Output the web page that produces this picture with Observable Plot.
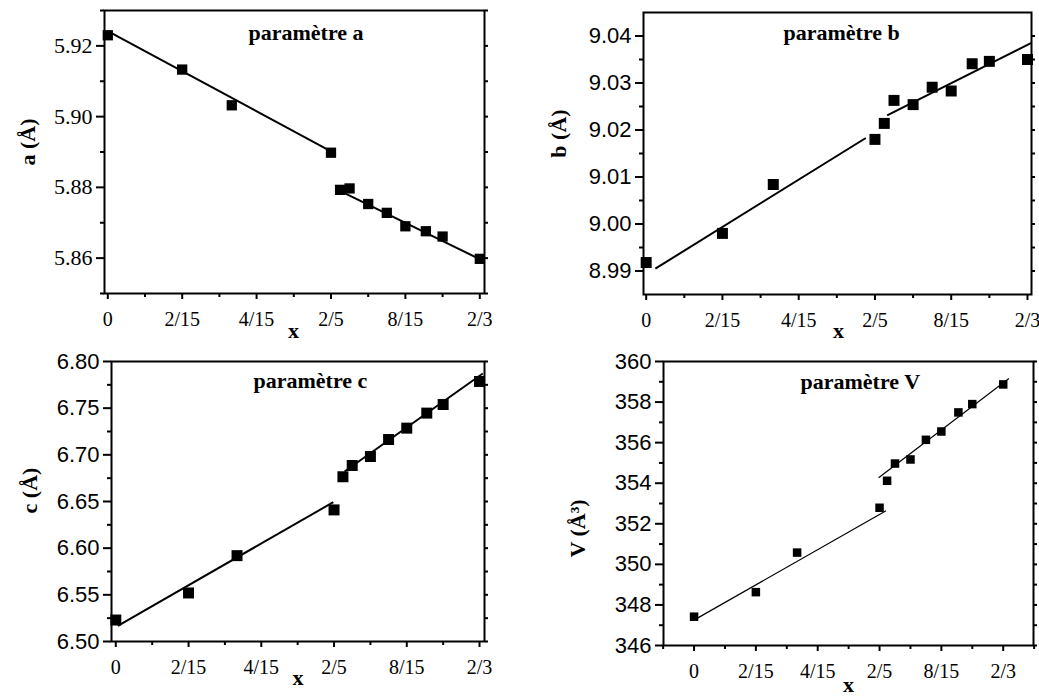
<!DOCTYPE html>
<html><head><meta charset="utf-8">
<script src="https://cdn.jsdelivr.net/npm/d3@7"></script>
<script src="https://cdn.jsdelivr.net/npm/@observablehq/plot@0.6"></script>
<style>
body{margin:0;background:#fff;}
#wrap{position:relative;width:1039px;height:696px;background:#fff;}
#wrap > div{position:absolute;}
</style></head><body>
<div id="wrap"><div id="pa"></div><div id="pb"></div><div id="pc"></div><div id="pd"></div></div>
<script>
// composition x
const xValues = [0, 0.1333, 0.2222, 0.4, 0.4163, 0.4333, 0.4667, 0.5, 0.5333, 0.57, 0.6, 0.6667];
// lattice parameters
const aValues = [5.9230, 5.9133, 5.9032, 5.8898, 5.8793, 5.8797, 5.8753, 5.8728, 5.8690, 5.8676, 5.8661, 5.8598];
const bValues = [8.9918, 8.9980, 9.0084, 9.0180, 9.0214, 9.0263, 9.0254, 9.0291, 9.0283, 9.0341, 9.0346, 9.0350];
const cValues = [6.523, 6.552, 6.592, 6.641, 6.6765, 6.6886, 6.6982, 6.7164, 6.7286, 6.7447, 6.7539, 6.7786];
const vValues = [347.42, 348.63, 350.58, 352.79, 354.12, 354.97, 355.17, 356.14, 356.55, 357.49, 357.90, 358.87];
// linear fit segments [x1, y1, x2, y2]
const aFit = [[0, 5.9242, 0.4, 5.8902], [0.416, 5.8790, 0.668, 5.8596]];
const bFit = [[0.016, 8.9905, 0.384, 9.0183], [0.4213, 9.0231, 0.6727, 9.0385]];
const cFit = [[0.0037, 6.5168, 0.3987, 6.6493], [0.4193, 6.6821, 0.6727, 6.7871]];
const vFit = [[0.0073, 347.35, 0.414, 352.64], [0.398, 354.27, 0.679, 359.16]];
// x ticks
const xMajor = [0, 2/15, 4/15, 6/15, 8/15, 10/15];
const xTickLabels = ["0", "2/15", "4/15", "2/5", "8/15", "2/3"];
const xMinor = [1/15, 3/15, 5/15, 7/15, 9/15];
const xMinorV = [-1/15, 1/15, 3/15, 5/15, 7/15, 9/15, 11/15];
// y ticks
const aMajor = [5.86, 5.88, 5.90, 5.92];
const aTickLabels = ["5.86", "5.88", "5.90", "5.92"];
const aMinor = [5.85, 5.87, 5.89, 5.91, 5.93];
const bMajor = [8.99, 9.00, 9.01, 9.02, 9.03, 9.04];
const bTickLabels = ["8.99", "9.00", "9.01", "9.02", "9.03", "9.04"];
const bMinor = [8.995, 9.005, 9.015, 9.025, 9.035];
const cMajor = [6.50, 6.55, 6.60, 6.65, 6.70, 6.75, 6.80];
const cTickLabels = ["6.50", "6.55", "6.60", "6.65", "6.70", "6.75", "6.80"];
const cMinor = [6.525, 6.575, 6.625, 6.675, 6.725, 6.775];
const vMajor = [346, 348, 350, 352, 354, 356, 358, 360];
const vTickLabels = ["346", "348", "350", "352", "354", "356", "358", "360"];
const vMinor = [347, 349, 351, 353, 355, 357, 359];

const SERIF = "'Liberation Serif', 'Times New Roman', serif";
const SANS = "'Liberation Sans', Arial, sans-serif";

function panel(cfg) {
  const el = document.getElementById(cfg.id);
  el.style.left = cfg.left + "px";
  el.style.top = cfg.top + "px";
  const pts = cfg.ys.map((y, i) => ({x: xValues[i], y}));
  const chart = Plot.plot({
    width: cfg.width, height: cfg.height,
    marginLeft: cfg.m[0], marginRight: cfg.m[1], marginTop: cfg.m[2], marginBottom: cfg.m[3],
    x: {domain: cfg.xDomain},
    y: {domain: cfg.yDomain},
    style: {fontFamily: SERIF, color: "black", background: "transparent", overflow: "visible"},
    marks: [
      Plot.axisY({ticks: cfg.yMajor, tickFormat: d => cfg.yLabels[cfg.yMajor.indexOf(d)], tickSize: 8, tickPadding: 4,
        fontSize: cfg.ySize, fontFamily: cfg.yFont, strokeWidth: 2, label: null}),
      Plot.axisY({ticks: cfg.yMinor, tickFormat: () => "", tickSize: 4, strokeWidth: 2, label: null}),
      Plot.axisY({anchor: "right", ticks: cfg.yMajor.concat(cfg.yMinor), tickFormat: () => "", tickSize: 3, strokeWidth: 2, label: null}),
      Plot.axisX({ticks: xMajor, tickFormat: d => xTickLabels[xMajor.indexOf(d)], tickSize: 6, tickPadding: 12,
        fontSize: 20, fontFamily: SERIF, strokeWidth: 2, label: null}),
      Plot.axisX({ticks: cfg.xMinor, tickFormat: () => "", tickSize: 4, strokeWidth: 2, label: null}),
      Plot.frame({stroke: "black", strokeWidth: 2}),
      Plot.link(cfg.fit, {x1: d => d[0], y1: d => d[1], x2: d => d[2], y2: d => d[3], stroke: "black", strokeWidth: cfg.lw}),
      Plot.dot(pts, {x: "x", y: "y", symbol: "square", r: cfg.r, fill: "black", stroke: null}),
      Plot.text([cfg.title], {text: d => d, frameAnchor: "top-left", textAnchor: "start", lineAnchor: "top",
        dx: cfg.titleD[0], dy: cfg.titleD[1], fontWeight: "bold", fontSize: 22, fontFamily: SERIF}),
      Plot.text([cfg.yLabel], {text: d => d, frameAnchor: "left", rotate: -90, textAnchor: "middle", lineAnchor: "middle",
        dx: cfg.yLabelD[0], dy: cfg.yLabelD[1], fontWeight: "bold", fontSize: 22, fontFamily: SERIF}),
      Plot.text(["x"], {text: d => d, frameAnchor: "bottom", textAnchor: "middle", lineAnchor: "middle",
        dx: cfg.xLabelD[0], dy: cfg.xLabelD[1], fontWeight: "bold", fontSize: 22, fontFamily: SERIF})
    ]
  });
  el.appendChild(chart);
}

panel({id: "pa", left: 0, top: 0, width: 520, height: 340, m: [104, 36, 10, 47],
  xDomain: [-0.0059, 0.6751], yDomain: [5.85, 5.93], ys: aValues, fit: aFit,
  yMajor: aMajor, yLabels: aTickLabels, yMinor: aMinor, yFont: SERIF, ySize: 22, xMinor: xMinor,
  title: "paramètre a", titleD: [144, 14], yLabel: "a (Å)", yLabelD: [-77, -10], xLabelD: [-1, 37], r: 5.8, lw: 2});
panel({id: "pb", left: 520, top: 0, width: 519, height: 340, m: [123, 8, 12, 46],
  xDomain: [-0.0047, 0.6737], yDomain: [8.985, 9.045], ys: bValues, fit: bFit,
  yMajor: bMajor, yLabels: bTickLabels, yMinor: bMinor, yFont: SANS, ySize: 22, xMinor: xMinor,
  title: "paramètre b", titleD: [140, 12], yLabel: "b (Å)", yLabelD: [-85, -20], xLabelD: [1, 36], r: 6.2, lw: 2});
panel({id: "pc", left: 0, top: 340, width: 520, height: 356, m: [111, 36, 21, 55],
  xDomain: [-0.0079, 0.6758], yDomain: [6.50, 6.80], ys: cValues, fit: cFit,
  yMajor: cMajor, yLabels: cTickLabels, yMinor: cMinor, yFont: SANS, ySize: 22, xMinor: xMinor,
  title: "paramètre c", titleD: [142, 11], yLabel: "c (Å)", yLabelD: [-82, -11], xLabelD: [0, 36], r: 6.2, lw: 2});
panel({id: "pd", left: 520, top: 340, width: 519, height: 356, m: [143, 6, 21, 51],
  xDomain: [-0.0659, 0.732], yDomain: [346, 360], ys: vValues, fit: vFit,
  yMajor: vMajor, yLabels: vTickLabels, yMinor: vMinor, yFont: SANS, ySize: 22, xMinor: xMinorV,
  title: "paramètre V", titleD: [137, 12], yLabel: "V (Å³)", yLabelD: [-86, 25], xLabelD: [0, 39], r: 4.8, lw: 1.2});
</script>
</body></html>
